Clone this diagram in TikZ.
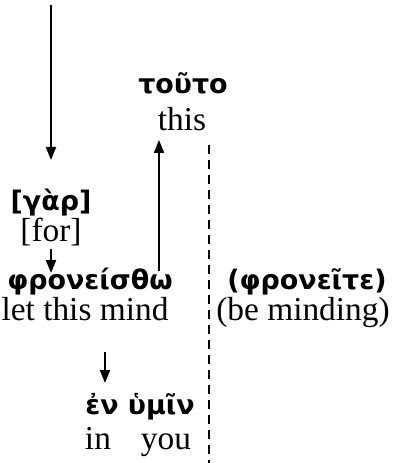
\documentclass[tikz,border=0pt]{standalone}
\usepackage{fontspec}
\setmainfont{Liberation Serif}
\newfontfamily\grk{DejaVu Sans}
\usetikzlibrary{arrows.meta}

\begin{document}
\begin{tikzpicture}[x=1bp,y=-1bp,
  gk/.style={font=\grk\bfseries\fontsize{27}{27}\selectfont, inner sep=0pt, anchor=base},
  en/.style={font=\fontsize{33.5}{33.5}\selectfont, inner sep=0pt, anchor=base},
  arr/.style={line width=2bp, -{Triangle[width=10bp,length=13bp]}},
  divider/.style={line width=2.2bp, dash pattern=on 9bp off 6bp}]
\useasboundingbox (0,0) rectangle (396,463);

% Greek words with their glosses
\node[gk] (touto) at (183,94) {τοῦτο};
\node[en] (this) at (182,131) {this};
\node[gk] (gar) at (51,211) {[γὰρ]};
\node[en] (for) at (51,241) {[for]};
\node[gk] (phr) at (90,289) {φρονείσθω};
\node[en] (mind) at (85,320) {let this mind};
\node[gk] (phrte) at (307,289) {(φρονεῖτε)};
\node[en] (bemind) at (303,320) {(be minding)};
\node[gk] (enhumin) at (140,414) {ἐν ὑμῖν};
\node[en] (inyou) at (138,449) {in\hspace{0.9em}you};

% free ends of the connectors
\coordinate (top) at (51,5);
\coordinate (garhead) at (51,160);
\coordinate (forfoot) at (51,249);
\coordinate (phrhead) at (51,273);
\coordinate (upfoot) at (159,271);
\coordinate (thisfoot) at (159,140);
\coordinate (mindfoot) at (105,352);
\coordinate (enhead) at (105,383);
\coordinate (divtop) at (209,145);
\coordinate (divbot) at (209,463);

% arrows between the words
\draw[arr] (top) -- (garhead);
\draw[arr] (forfoot) -- (phrhead);
\draw[arr] (upfoot) -- (thisfoot);
\draw[arr] (mindfoot) -- (enhead);

% dashed divider
\draw[divider] (divtop) -- (divbot);
\end{tikzpicture}
\end{document}
